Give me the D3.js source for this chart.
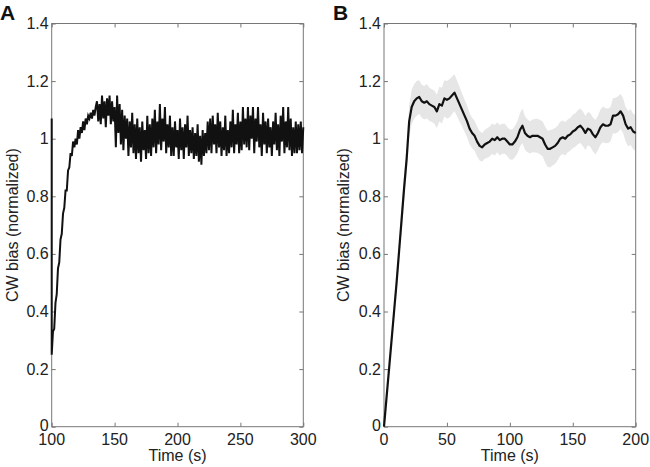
<!DOCTYPE html>
<html>
<head>
<meta charset="utf-8">
<script src="https://cdn.jsdelivr.net/npm/d3@7"></script>
<style>
  body { margin: 0; background: #fff; }
  svg { display: block; }
  text { font-family: "Liberation Sans", Arial, sans-serif; fill: #222; }
</style>
</head>
<body>
<svg width="650" height="467"></svg>
<script>
// Panel A: raw trace, 1 s samples from 100 s to 300 s
var startA = 100, stepA = 1;
var leadA = [[100, 1.07]]; // clipped tail at the very left edge
var biasA = [
  0.25, 0.33, 0.34, 0.43, 0.46, 0.55, 0.57, 0.65, 0.67, 0.74,
  0.76, 0.82, 0.82, 0.89, 0.90, 0.95, 0.94, 0.99, 0.97, 1.00,
  0.98, 1.03, 1.00, 1.04, 1.02, 1.06, 1.03, 1.07, 1.05, 1.08,
  1.07, 1.09, 1.07, 1.10, 1.08, 1.11,
  1.13, 1.06, 1.12, 1.05, 1.15, 1.07, 1.13, 1.04, 1.14, 1.08, 1.15, 1.05, 1.13, 1.06, 1.11,
  0.97, 1.15, 1.02, 1.12, 0.98, 1.10, 0.96, 1.08, 1.00, 1.07, 0.94, 1.06, 0.97, 1.09, 0.95,
  1.05, 0.93, 1.07, 0.95, 1.04, 0.92, 1.06, 0.96, 1.03, 0.93, 1.08, 0.95, 1.05, 0.94, 1.07,
  0.97, 1.10, 0.95, 1.06, 0.98, 1.12, 0.96, 1.07, 0.99, 1.11, 0.95, 1.05, 0.97, 1.08, 0.94,
  1.04, 0.94, 1.06, 0.97, 1.03, 0.93, 1.07, 0.96, 1.04, 0.93, 1.05, 0.97, 1.08, 0.94, 1.03,
  0.95, 1.04, 0.93, 1.02, 0.94, 1.05, 0.92, 1.01, 0.91, 1.03, 0.94, 1.02, 0.95, 1.06, 0.96,
  1.07, 0.95, 1.08, 0.98, 1.05, 0.95, 1.09, 0.97, 1.06, 0.94, 1.04, 0.96, 1.08, 0.94, 1.03,
  0.95, 1.06, 0.97, 1.10, 0.95, 1.05, 0.98, 1.09, 0.95, 1.06, 0.96, 1.11, 0.98, 1.07, 0.97,
  1.11, 0.96, 1.08, 1.00, 1.11, 0.95, 1.07, 0.99, 1.11, 0.97, 1.05, 0.94, 1.09, 0.98, 1.06,
  0.95, 1.07, 0.97, 1.04, 0.94, 1.06, 0.98, 1.09, 0.96, 1.05, 0.94, 1.08, 0.99, 1.11, 0.95,
  1.06, 0.97, 1.11, 0.96, 1.07, 0.94, 1.04, 0.95, 1.06, 0.95, 1.05, 0.96, 1.06, 0.95, 1.04
];

// Panel B: averaged trace with shaded error, 2 s samples from 0 s to 200 s
var startB = 0, stepB = 2;
var biasB = [
  0.00, 0.10, 0.20, 0.30, 0.40, 0.50, 0.61, 0.72, 0.83, 0.93,
  1.06, 1.11, 1.13, 1.14, 1.145, 1.13, 1.125, 1.13, 1.12, 1.115,
  1.11, 1.095, 1.12, 1.115, 1.14, 1.135, 1.14, 1.15, 1.16, 1.14,
  1.12, 1.10, 1.08, 1.06, 1.035, 1.02, 1.01, 0.99, 0.975, 0.97,
  0.98, 0.985, 0.99, 1.00, 0.995, 1.005, 0.995, 1.00, 1.00, 0.99,
  0.98, 0.98, 0.99, 1.005, 1.03, 1.045, 1.02, 1.01, 1.005, 1.01,
  1.01, 1.01, 1.005, 1.00, 0.98, 0.965, 0.965, 0.97, 0.975, 0.985,
  1.00, 1.005, 1.00, 1.01, 1.015, 1.025, 1.03, 1.04, 1.045, 1.035,
  1.02, 1.035, 1.03, 1.015, 1.005, 1.02, 1.04, 1.05, 1.045, 1.045,
  1.05, 1.08, 1.08, 1.085, 1.095, 1.08, 1.05, 1.035, 1.04, 1.025,
  1.02
];
var semB = [
  0.005, 0.01, 0.015, 0.02, 0.025, 0.03, 0.035, 0.04, 0.045, 0.05,
  0.055, 0.06, 0.06, 0.06, 0.058, 0.057, 0.058, 0.06, 0.058, 0.057,
  0.057, 0.058, 0.06, 0.062, 0.063, 0.065, 0.066, 0.065, 0.064, 0.062,
  0.06, 0.058, 0.056, 0.055, 0.054, 0.053, 0.052, 0.052, 0.051, 0.05,
  0.05, 0.051, 0.052, 0.053, 0.053, 0.052, 0.053, 0.052, 0.052, 0.051,
  0.052, 0.053, 0.054, 0.056, 0.058, 0.06, 0.058, 0.057, 0.056, 0.057,
  0.058, 0.059, 0.06, 0.061, 0.062, 0.063, 0.064, 0.063, 0.062, 0.06,
  0.059, 0.058, 0.058, 0.057, 0.057, 0.058, 0.058, 0.059, 0.06, 0.06,
  0.059, 0.058, 0.058, 0.059, 0.06, 0.06, 0.061, 0.062, 0.061, 0.06,
  0.06, 0.061, 0.062, 0.062, 0.061, 0.06, 0.06, 0.061, 0.062, 0.062,
  0.062
];

var yTicks = [0, 0.2, 0.4, 0.6, 0.8, 1, 1.2, 1.4];
var xTicksA = [100, 150, 200, 250, 300];
var xTicksB = [0, 50, 100, 150, 200];

var svg = d3.select("svg");
var top0 = 23.5, bottom0 = 426.7;

var yScale = d3.scaleLinear().domain([0, 1.4]).range([bottom0, top0]);

// draws one box-style panel, returns the group and x scale
function drawPanel(x0, x1, xDomain, xTicks, letter, letterX, labelX) {
  var xScale = d3.scaleLinear().domain(xDomain).range([x0, x1]);
  var g = svg.append("g");

  var fmt = function (d) { return d3.format("~g")(d); };

  // tick marks, pointing inward on all four sides
  var tl = 4;
  g.append("g").call(d3.axisBottom(xScale).tickValues(xTicks).tickSize(-tl).tickFormat(""))
    .attr("transform", "translate(0," + bottom0 + ")");
  g.append("g").call(d3.axisTop(xScale).tickValues(xTicks).tickSize(-tl).tickFormat(""))
    .attr("transform", "translate(0," + top0 + ")");
  g.append("g").call(d3.axisLeft(yScale).tickValues(yTicks).tickSize(-tl).tickFormat(""))
    .attr("transform", "translate(" + x0 + ",0)");
  g.append("g").call(d3.axisRight(yScale).tickValues(yTicks).tickSize(-tl).tickFormat(""))
    .attr("transform", "translate(" + x1 + ",0)");
  g.selectAll(".domain").remove();
  g.selectAll(".tick line").attr("stroke", "#777").attr("stroke-width", 1);

  // tick labels
  g.selectAll(".xlab").data(xTicks).enter().append("text")
    .attr("x", function (d) { return xScale(d); })
    .attr("y", bottom0 + 18)
    .attr("text-anchor", "middle")
    .style("font-size", "16px")
    .text(fmt);
  g.selectAll(".ylab").data(yTicks).enter().append("text")
    .attr("x", x0 - 3)
    .attr("y", function (d) { return yScale(d) + (d === 0 ? 4 : 5.5); })
    .attr("text-anchor", "end")
    .style("font-size", "16px")
    .text(fmt);

  // axis titles
  g.append("text")
    .attr("x", (x0 + x1) / 2)
    .attr("y", bottom0 + 34)
    .attr("text-anchor", "middle")
    .style("font-size", "16px")
    .text("Time (s)");
  g.append("text")
    .attr("transform", "translate(" + labelX + "," + ((top0 + bottom0) / 2) + ") rotate(-90)")
    .attr("text-anchor", "middle")
    .attr("dy", "0.35em")
    .style("font-size", "16px")
    .text("CW bias (normalized)");

  // panel letter
  svg.append("text")
    .attr("x", letterX)
    .attr("y", 20)
    .style("font-size", "21px")
    .style("font-weight", "bold")
    .style("fill", "#111")
    .text(letter);

  return { g: g, x: xScale, x0: x0, x1: x1 };
}

function drawBox(p) {
  p.g.append("rect")
    .attr("x", p.x0)
    .attr("y", top0)
    .attr("width", p.x1 - p.x0)
    .attr("height", bottom0 - top0)
    .attr("fill", "none")
    .attr("stroke", "#777")
    .attr("stroke-width", 1);
}

// ---- Panel A ----
var pA = drawPanel(51.7, 303.3, [100, 300], xTicksA, "A", 0, 12.5);
var ptsA = leadA.concat(biasA.map(function (v, i) { return [startA + i * stepA, v]; }));
drawBox(pA);
pA.g.append("path")
  .datum(ptsA)
  .attr("fill", "none")
  .attr("stroke", "#111")
  .attr("stroke-width", 2)
  .attr("stroke-linejoin", "miter")
  .attr("d", d3.line()
    .x(function (d) { return pA.x(d[0]); })
    .y(function (d) { return yScale(d[1]); }));

// ---- Panel B ----
var pB = drawPanel(384, 635.7, [0, 200], xTicksB, "B", 333, 343.5);
var ptsB = biasB.map(function (v, i) { return { t: startB + i * stepB, v: v, s: semB[i] }; });
pB.g.append("path")
  .datum(ptsB)
  .attr("fill", "#e6e6e6")
  .attr("stroke", "none")
  .attr("d", d3.area()
    .x(function (d) { return pB.x(d.t); })
    .y0(function (d) { return yScale(d.v - d.s); })
    .y1(function (d) { return yScale(d.v + d.s); }));
drawBox(pB);
pB.g.append("path")
  .datum(ptsB)
  .attr("fill", "none")
  .attr("stroke", "#111")
  .attr("stroke-width", 2.2)
  .attr("stroke-linejoin", "round")
  .attr("d", d3.line()
    .x(function (d) { return pB.x(d.t); })
    .y(function (d) { return yScale(d.v); }));
</script>
</body>
</html>
